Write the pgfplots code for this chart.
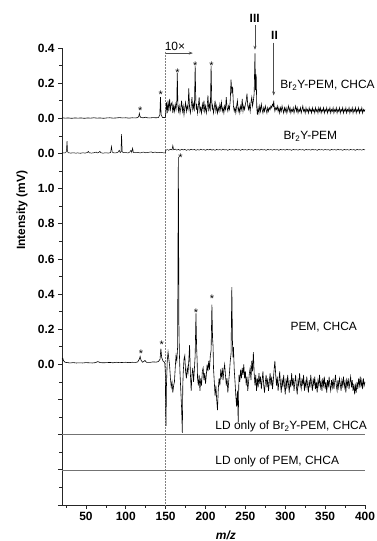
\documentclass[border=0pt]{standalone}
\usepackage{pgfplots}
\pgfplotsset{compat=1.18}
\usetikzlibrary{arrows.meta}
\usepackage{fontspec}
\setmainfont{Liberation Sans}
\begin{document}
\begin{tikzpicture}
\useasboundingbox (-62bp,-36bp) rectangle (315bp,505bp);
\begin{axis}[
  scale only axis, width=303bp, height=457bp,
  xmin=20, xmax=400, ymin=0, ymax=2.6,
  clip=false,
  axis x line=bottom, axis y line=left,
  axis line style={-, line width=0.8pt, black!85},
  tick align=outside, major tick length=4bp, minor tick length=2.5bp,
  tick style={line width=0.7pt, black!85},
  xtick={50,100,150,200,250,300,350,400},
  xticklabels={50,100,150,200,250,300,350,400},
  minor xtick={25,75,125,175,225,275,325,375},
  ytick={0,0.2,0.4,0.6,0.8,1.0,1.2,1.4,1.6,1.8,2.0,2.2,2.4,2.6},
  yticklabels={,,,,0.0,0.2,0.4,0.6,0.8,1.0,0.0,0.0,0.2,0.4},
  minor ytick={0.1,0.3,0.5,0.7,0.9,1.1,1.3,1.5,1.7,1.9,2.1,2.3,2.5},
  ticklabel style={font=\bfseries\fontsize{12}{14}\selectfont},
  /pgf/number format/assume math mode=true,
  ylabel={\bfseries Intensity (mV)},
  ylabel style={at={(axis description cs:-0.132,0.645)},anchor=center,font=\fontsize{12}{14}\selectfont},
  xlabel={\bfseries\itshape m/z},
  xlabel style={at={(axis description cs:0.541,-0.066)},anchor=center,font=\fontsize{12}{14}\selectfont},
]
% dashed separator at m/z 150
\addplot[densely dotted, black!50, line width=0.5pt] coordinates {(150,0) (150,2.58)};
% LD only lines
\addplot[black!55, line width=0.6pt] coordinates {(20,0.4) (400,0.4)};
\addplot[black!55, line width=0.6pt] coordinates {(20,0.2) (400,0.2)};

% Trace 1: Br2Y-PEM, CHCA (offset 2.2)
\addplot[black, line width=0.6pt] table[row sep=\\, y expr=\thisrowno{1}+2.2] {
20 0.003\\ 24 0.001\\ 28 0.002\\ 32 0.000\\ 36 0.002\\ 40 0.001\\ 44 0.002\\ 48 0.000\\ 52 0.002\\ 56 0.001\\
60 0.003\\ 64 0.001\\ 68 0.002\\ 72 0.000\\ 76 0.002\\ 80 0.003\\ 84 0.001\\ 88 0.002\\ 92 0.004\\ 96 0.002\\
100 0.003\\ 104 0.001\\ 108 0.003\\ 112 0.002\\ 115 0.004\\ 116.3 0.012\\ 117 0.028\\ 117.8 0.012\\ 119 0.004\\ 122 0.003\\
125 0.006\\ 127 0.003\\ 130 0.002\\ 134 0.004\\ 138 0.003\\ 141 0.004\\ 142.7 0.02\\ 143.5 0.12\\ 144.3 0.02\\ 146 0.005\\
148 0.004\\ 149.5 0.005\\ 150 0.02\\ 150.5 0.06\\
151 0.09\\ 152 0.03\\ 153 0.10\\ 154 0.04\\ 155 0.11\\ 156 0.05\\ 157 0.08\\ 158 0.09\\ 159 0.03\\ 160 0.07\\
161 0.04\\ 162 0.08\\ 163 0.05\\ 164 0.10\\ 164.6 0.26\\ 165.3 0.08\\ 166 0.04\\ 167 0.07\\ 168 0.03\\ 169 0.06\\
170 0.10\\ 171 0.04\\ 172 0.07\\ 173 0.02\\ 174 0.06\\ 175 0.09\\ 176 0.04\\ 177 0.07\\ 178 0.05\\ 179 0.17\\
180 0.06\\ 181 0.03\\ 182 0.07\\ 183 0.12\\ 184 0.05\\ 185 0.08\\ 186 0.04\\ 187 0.30\\ 187.8 0.10\\ 188.5 0.05\\
189 0.08\\ 190 0.03\\ 191 0.07\\ 192 0.12\\ 193 0.04\\ 194 0.06\\ 195 0.03\\ 196 0.08\\ 197 0.05\\ 198 0.10\\
199 0.04\\ 200 0.07\\ 201 0.03\\ 202 0.06\\ 203 0.13\\ 204 0.05\\ 205 0.08\\ 206 0.04\\ 207 0.30\\ 207.8 0.09\\
208.5 0.05\\ 209 0.07\\ 210 0.03\\ 211 0.06\\ 212 0.10\\ 213 0.04\\ 214 0.07\\ 215 0.03\\ 216 0.06\\ 217 0.04\\
218 0.08\\ 219 0.05\\ 220 0.09\\ 221 0.04\\ 222 0.06\\ 223 0.03\\ 224 0.07\\ 225 0.05\\ 226 0.12\\ 227 0.06\\
228 0.04\\ 229 0.07\\ 230 0.05\\ 231 0.10\\ 232 0.22\\ 233 0.14\\ 234 0.18\\ 235 0.07\\ 236 0.04\\ 237 0.06\\
238 0.03\\ 239 0.07\\ 240 0.10\\ 241 0.04\\ 242 0.06\\ 243 0.03\\ 244 0.07\\ 245 0.05\\ 246 0.11\\ 247 0.04\\
248 0.07\\ 249 0.05\\ 250 0.08\\ 251 0.10\\ 252 0.14\\ 253 0.07\\ 254 0.05\\ 255 0.08\\ 256 0.04\\ 257 0.09\\
258 0.12\\ 259 0.07\\ 260 0.10\\ 261 0.14\\ 262 0.37\\ 262.7 0.16\\ 263.5 0.25\\ 264.3 0.06\\ 265 0.02\\ 266 0.06\\
267 0.03\\ 268 0.07\\ 269 0.04\\ 270 0.08\\ 271 0.05\\ 272 0.03\\ 273 0.06\\ 274 0.04\\ 275 0.07\\ 276 0.05\\
277 0.03\\ 278 0.06\\ 279 0.04\\ 280 0.06\\ 281 0.05\\ 282 0.07\\ 283 0.06\\ 284 0.08\\ 285 0.07\\ 285.5 0.10\\
286.3 0.06\\ 287 0.04\\ 288 0.06\\ 289 0.05\\ 290 0.07\\ 291 0.04\\ 292 0.06\\ 293 0.03\\ 294 0.06\\ 295 0.04\\
296 0.07\\ 297 0.05\\ 298 0.03\\ 299 0.06\\ 300 0.04\\ 301 0.06\\ 302 0.03\\ 303 0.05\\ 304 0.07\\ 305 0.04\\
306 0.06\\ 307 0.03\\ 308 0.05\\ 309 0.04\\ 310 0.06\\ 311 0.03\\ 312 0.05\\ 313 0.07\\ 314 0.04\\ 315 0.06\\
316 0.03\\ 317 0.05\\ 318 0.04\\ 319 0.06\\ 320 0.03\\ 321 0.05\\ 322 0.07\\ 323 0.04\\ 324 0.05\\ 325 0.03\\
326 0.06\\ 327 0.04\\ 328 0.05\\ 329 0.03\\ 330 0.06\\ 331 0.04\\ 332 0.05\\ 333 0.03\\ 334 0.06\\ 335 0.04\\
336 0.05\\ 337 0.03\\ 338 0.06\\ 339 0.04\\ 340 0.05\\ 341 0.03\\ 342 0.06\\ 343 0.04\\ 344 0.06\\ 345 0.03\\
346 0.05\\ 347 0.04\\ 348 0.06\\ 349 0.03\\ 350 0.05\\ 351 0.04\\ 352 0.06\\ 353 0.03\\ 354 0.05\\ 355 0.04\\
356 0.06\\ 357 0.03\\ 358 0.05\\ 359 0.04\\ 360 0.06\\ 361 0.03\\ 362 0.05\\ 363 0.04\\ 364 0.06\\ 365 0.03\\
366 0.05\\ 367 0.04\\ 368 0.06\\ 369 0.03\\ 370 0.05\\ 371 0.04\\ 372 0.06\\ 373 0.03\\ 374 0.05\\ 375 0.04\\
376 0.06\\ 377 0.03\\ 378 0.05\\ 379 0.04\\ 380 0.06\\ 381 0.03\\ 382 0.05\\ 383 0.04\\ 384 0.06\\ 385 0.03\\
386 0.05\\ 387 0.04\\ 388 0.06\\ 389 0.03\\ 390 0.05\\ 391 0.04\\ 392 0.06\\ 393 0.03\\ 394 0.05\\ 395 0.04\\
396 0.06\\ 397 0.03\\ 398 0.05\\ 399 0.04\\ 400 0.05\\
};

% Trace 2: Br2Y-PEM (offset 2.0)
\addplot[black, line width=0.5pt] table[row sep=\\, y expr=\thisrowno{1}+2.0] {
20 0.002\\ 22 0.004\\ 24 0.003\\ 25.5 0.01\\ 26.3 0.07\\ 27 0.01\\ 28 0.004\\ 31 0.002\\ 34 0.004\\ 37 0.002\\
40 0.003\\ 43 0.001\\ 46 0.004\\ 49 0.002\\ 52 0.006\\ 53 0.012\\ 54 0.004\\ 57 0.002\\ 60 0.004\\ 63 0.008\\
64 0.003\\ 66 0.005\\ 67.5 0.012\\ 69 0.003\\ 72 0.002\\ 75 0.004\\ 78 0.002\\ 81 0.005\\ 82 0.04\\ 83 0.008\\
85 0.003\\ 88 0.004\\ 90 0.006\\ 91.8 0.018\\ 93 0.005\\ 94 0.01\\ 94.7 0.11\\ 95.5 0.01\\ 97 0.004\\ 100 0.005\\
103 0.003\\ 105 0.008\\ 106.5 0.018\\ 107.5 0.006\\ 108.5 0.03\\ 109.5 0.006\\ 112 0.004\\ 115 0.006\\ 118 0.003\\ 122 0.008\\
125 0.004\\ 128 0.006\\ 132 0.009\\ 134 0.004\\ 136.6 0.008\\ 140 0.004\\ 144 0.006\\ 147 0.004\\ 149.5 0.003\\ 150.2 0.018\\
152 0.022\\ 154 0.018\\ 156 0.024\\ 158 0.020\\ 159 0.045\\ 160 0.021\\ 162 0.025\\ 164 0.019\\ 166 0.023\\ 168 0.018\\
170 0.024\\ 172 0.020\\ 174 0.023\\ 176 0.018\\ 178 0.022\\ 180 0.019\\ 182 0.024\\ 184 0.020\\ 186 0.023\\ 188 0.018\\
190 0.022\\ 192 0.019\\ 194 0.024\\ 196 0.020\\ 198 0.022\\ 200 0.018\\ 202 0.023\\ 204 0.020\\ 206 0.024\\ 208 0.019\\
210 0.022\\ 212 0.018\\ 214 0.023\\ 216 0.020\\ 218 0.022\\ 220 0.019\\ 222 0.024\\ 224 0.020\\ 226 0.022\\ 228 0.018\\
230 0.023\\ 232 0.020\\ 234 0.022\\ 236 0.019\\ 238 0.024\\ 240 0.020\\ 242 0.022\\ 244 0.018\\ 246 0.023\\ 248 0.020\\
250 0.022\\ 252 0.019\\ 254 0.023\\ 256 0.020\\ 258 0.022\\ 260 0.018\\ 262 0.023\\ 264 0.020\\ 266 0.022\\ 268 0.019\\
270 0.024\\ 272 0.020\\ 274 0.022\\ 276 0.018\\ 278 0.023\\ 280 0.020\\ 282 0.022\\ 284 0.019\\ 286 0.023\\ 288 0.020\\
290 0.022\\ 292 0.018\\ 294 0.023\\ 296 0.020\\ 298 0.022\\ 300 0.019\\ 302 0.024\\ 304 0.020\\ 306 0.022\\ 308 0.018\\
310 0.023\\ 312 0.020\\ 314 0.022\\ 316 0.019\\ 318 0.023\\ 320 0.020\\ 322 0.022\\ 324 0.018\\ 326 0.023\\ 328 0.020\\
330 0.022\\ 332 0.019\\ 334 0.024\\ 336 0.020\\ 338 0.022\\ 340 0.018\\ 342 0.023\\ 344 0.020\\ 346 0.022\\ 348 0.019\\
350 0.023\\ 352 0.020\\ 354 0.022\\ 356 0.018\\ 358 0.023\\ 360 0.020\\ 362 0.022\\ 364 0.019\\ 366 0.024\\ 368 0.020\\
370 0.022\\ 372 0.018\\ 374 0.023\\ 376 0.020\\ 378 0.022\\ 380 0.019\\ 382 0.023\\ 384 0.020\\ 386 0.022\\ 388 0.018\\
390 0.023\\ 392 0.020\\ 394 0.022\\ 396 0.019\\ 398 0.023\\ 400 0.020\\
};

% Trace 3: PEM, CHCA (offset 0.8)
\addplot[black, line width=0.6pt] table[row sep=\\, y expr=\thisrowno{1}+0.8] {
20 0.030\\ 21 0.035\\ 22 0.020\\ 24 0.012\\ 27 0.010\\ 30 0.008\\ 34 0.010\\ 38 0.008\\ 42 0.009\\ 46 0.008\\
50 0.010\\ 54 0.009\\ 58 0.008\\ 62 0.010\\ 65 0.016\\ 68 0.010\\ 72 0.009\\ 76 0.010\\ 80 0.011\\ 84 0.009\\
88 0.012\\ 92 0.010\\ 96 0.011\\ 100 0.012\\ 104 0.010\\ 108 0.012\\ 112 0.011\\ 115 0.014\\ 117 0.030\\ 118 0.045\\
119 0.025\\ 121 0.012\\ 123 0.018\\ 124 0.022\\ 126 0.012\\ 130 0.011\\ 134 0.014\\ 138 0.013\\ 141 0.016\\ 143 0.030\\
144 0.090\\ 145 0.040\\ 146.5 0.020\\ 148 0.015\\ 149 0.005\\ 149.6 -0.05\\ 150 -0.25\\ 150.4 -0.35\\ 151 -0.12\\ 152 0.02\\
153 0.07\\ 154 0.03\\ 155 -0.01\\ 156 -0.08\\ 157 -0.13\\ 158 -0.10\\ 159 -0.16\\ 160 -0.12\\ 161 -0.10\\ 162 -0.02\\
163 0.05\\ 164 0.02\\ 165 0.10\\ 165.9 1.18\\ 166.7 0.18\\ 167.3 0.05\\ 168 -0.05\\ 169 -0.15\\ 170 -0.25\\ 170.9 -0.39\\
171.5 -0.12\\ 172 -0.05\\ 173 0.03\\ 174 0.05\\ 175 -0.04\\ 176 -0.08\\ 177 -0.02\\ 178 -0.05\\ 179 0.02\\ 180 0.11\\
181 -0.05\\ 182 -0.15\\ 183 -0.06\\ 184 -0.02\\ 185 -0.10\\ 186 -0.03\\ 187 0.05\\ 188 0.29\\ 188.8 0.10\\ 189.5 0.02\\
190 -0.08\\ 191 -0.12\\ 192 -0.06\\ 193 -0.15\\ 194 -0.08\\ 195 -0.12\\ 196 -0.04\\ 197 -0.02\\ 198 -0.09\\ 199 -0.05\\
200 -0.11\\ 201 -0.06\\ 202 0.00\\ 203 -0.04\\ 204 0.02\\ 205 -0.03\\ 206 0.05\\ 207 0.08\\ 208 0.34\\ 208.8 0.15\\
209.5 0.10\\ 210 -0.02\\ 211 -0.10\\ 212 -0.18\\ 213 -0.12\\ 214 -0.20\\ 215 -0.26\\ 216 -0.14\\ 217 -0.08\\ 218 -0.12\\
219 -0.04\\ 220 -0.07\\ 221 -0.02\\ 222 -0.09\\ 223 -0.03\\ 224 0.00\\ 225 -0.06\\ 226 -0.12\\ 227 -0.08\\ 228 -0.16\\
229 -0.10\\ 230 -0.05\\ 231 0.02\\ 232 0.06\\ 233 0.44\\ 233.8 0.12\\ 234.5 0.04\\ 235 0.10\\ 236 -0.03\\ 237 -0.10\\
238 -0.18\\ 239 -0.24\\ 240 -0.15\\ 241 -0.33\\ 241.7 -0.12\\ 242 -0.06\\ 243 -0.10\\ 244 -0.03\\ 245 -0.08\\ 246 -0.02\\
247 -0.06\\ 248 0.00\\ 249 -0.08\\ 250 -0.04\\ 251 -0.12\\ 252 -0.07\\ 253 -0.15\\ 254 -0.10\\ 255 -0.05\\ 256 -0.02\\
257 -0.09\\ 258 0.02\\ 259 -0.04\\ 260 0.07\\ 261 -0.05\\ 262 -0.12\\ 263 -0.06\\ 264 -0.15\\ 265 -0.08\\ 266 -0.13\\
267 -0.05\\ 268 -0.11\\ 269 -0.07\\ 270 -0.14\\ 271 -0.09\\ 272 -0.04\\ 273 -0.12\\ 274 -0.16\\ 275 -0.10\\ 276 -0.06\\
277 -0.13\\ 278 -0.08\\ 279 -0.15\\ 280 -0.10\\ 281 -0.05\\ 282 -0.12\\ 283 -0.07\\ 284 -0.14\\ 285 -0.09\\ 286 -0.03\\
287 0.02\\ 288 -0.06\\ 289 -0.12\\ 290 -0.07\\ 291 -0.15\\ 292 -0.10\\ 293 -0.04\\ 294 -0.11\\ 295 -0.16\\ 296 -0.08\\
297 -0.13\\ 298 -0.06\\ 299 -0.12\\ 300 -0.17\\ 301 -0.08\\ 302 -0.14\\ 303 -0.06\\ 304 -0.11\\ 305 -0.16\\ 306 -0.09\\
307 -0.13\\ 308 -0.05\\ 309 -0.12\\ 310 -0.08\\ 311 -0.15\\ 312 -0.10\\ 313 -0.06\\ 314 -0.13\\ 315 -0.17\\ 316 -0.09\\
317 -0.12\\ 318 -0.05\\ 319 -0.11\\ 320 -0.14\\ 321 -0.08\\ 322 -0.12\\ 323 -0.06\\ 324 -0.15\\ 325 -0.10\\ 326 -0.13\\
327 -0.07\\ 328 -0.12\\ 329 -0.16\\ 330 -0.09\\ 331 -0.13\\ 332 -0.06\\ 333 -0.11\\ 334 -0.15\\ 335 -0.08\\ 336 -0.12\\
337 -0.07\\ 338 -0.14\\ 339 -0.10\\ 340 -0.16\\ 341 -0.09\\ 342 -0.12\\ 343 -0.06\\ 344 -0.13\\ 345 -0.10\\ 346 -0.15\\
347 -0.08\\ 348 -0.12\\ 349 -0.07\\ 350 -0.14\\ 351 -0.10\\ 352 -0.16\\ 353 -0.09\\ 354 -0.13\\ 355 -0.07\\ 356 -0.12\\
357 -0.15\\ 358 -0.09\\ 359 -0.13\\ 360 -0.08\\ 361 -0.14\\ 362 -0.10\\ 363 -0.06\\ 364 -0.12\\ 365 -0.15\\ 366 -0.09\\
367 -0.13\\ 368 -0.08\\ 369 -0.11\\ 370 -0.15\\ 371 -0.09\\ 372 -0.12\\ 373 -0.07\\ 374 -0.13\\ 375 -0.10\\ 376 -0.16\\
377 -0.09\\ 378 -0.12\\ 379 -0.08\\ 380 -0.14\\ 381 -0.10\\ 382 -0.07\\ 383 -0.13\\ 384 -0.09\\ 385 -0.15\\ 386 -0.11\\
387 -0.17\\ 388 -0.12\\ 389 -0.16\\ 390 -0.10\\ 391 -0.14\\ 392 -0.08\\ 393 -0.12\\ 394 -0.07\\ 395 -0.13\\ 396 -0.09\\
397 -0.14\\ 398 -0.08\\ 399 -0.12\\ 400 -0.10\\
};

% annotations
\draw[black!70, line width=0.5pt, -{Stealth[length=4bp,width=3bp]}] (axis cs:150,2.571) -- (axis cs:184,2.571);
\node[font=\fontsize{12}{14}\selectfont] at (axis cs:161.7,2.609) {10×};
\node[font=\bfseries\fontsize{12}{14}\selectfont] at (axis cs:261.7,2.77) {III};
\draw[black!70, line width=0.5pt, -{Stealth[length=4bp,width=3bp]}] (axis cs:262,2.73) -- (axis cs:262,2.59);
\node[font=\bfseries\fontsize{12}{14}\selectfont] at (axis cs:286.5,2.67) {II};
\draw[black!70, line width=0.5pt, -{Stealth[length=4bp,width=3bp]}] (axis cs:285.5,2.63) -- (axis cs:285.5,2.33);
\node[anchor=west, font=\fontsize{12}{14}\selectfont] at (axis cs:289.6,2.386) {Br\textsubscript{2}Y-PEM, CHCA};
\node[anchor=west, font=\fontsize{12}{14}\selectfont] at (axis cs:293.4,2.097) {Br\textsubscript{2}Y-PEM};
\node[anchor=west, font=\fontsize{12}{14}\selectfont] at (axis cs:302.2,1.011) {PEM, CHCA};
\node[anchor=west, font=\fontsize{12}{14}\selectfont] at (axis cs:208,0.446) {LD only of Br\textsubscript{2}Y-PEM, CHCA};
\node[anchor=west, font=\fontsize{12}{14}\selectfont] at (axis cs:208,0.246) {LD only of PEM, CHCA};
% asterisks
\node[inner sep=0pt, font=\fontsize{11}{12}\selectfont] at (axis cs:118,2.245) {*};
\node[inner sep=0pt, font=\fontsize{11}{12}\selectfont] at (axis cs:144,2.335) {*};
\node[inner sep=0pt, font=\fontsize{11}{12}\selectfont] at (axis cs:165,2.46) {*};
\node[inner sep=0pt, font=\fontsize{11}{12}\selectfont] at (axis cs:187,2.50) {*};
\node[inner sep=0pt, font=\fontsize{11}{12}\selectfont] at (axis cs:207.5,2.50) {*};
\node[inner sep=0pt, font=\fontsize{11}{12}\selectfont] at (axis cs:168.5,1.975) {*};
\node[inner sep=0pt, font=\fontsize{11}{12}\selectfont] at (axis cs:188,1.095) {*};
\node[inner sep=0pt, font=\fontsize{11}{12}\selectfont] at (axis cs:208,1.175) {*};
\node[inner sep=0pt, font=\fontsize{11}{12}\selectfont] at (axis cs:119,0.86) {*};
\node[inner sep=0pt, font=\fontsize{11}{12}\selectfont] at (axis cs:145,0.912) {*};
\end{axis}
\end{tikzpicture}
\end{document}
